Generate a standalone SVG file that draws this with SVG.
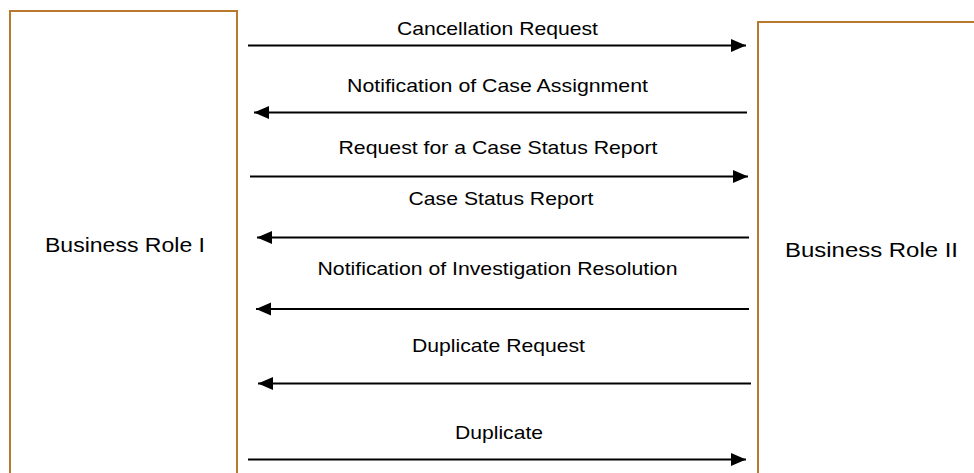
<svg xmlns="http://www.w3.org/2000/svg" width="974" height="473" viewBox="0 0 974 473">
  <style>
    .role { fill: #ffffff; stroke: #b8792f; stroke-width: 2; }
    .lbl { font-family: "Liberation Sans", Arial, sans-serif; font-size: 19px; fill: #000000; text-anchor: middle; }
    .big { font-size: 19.5px; }
    .msg { stroke: #000000; stroke-width: 2; fill: none; marker-end: url(#head); }
  </style>
  <defs>
    <marker id="head" markerUnits="userSpaceOnUse" markerWidth="16" markerHeight="14" refX="15" refY="7" orient="auto">
      <path d="M0,0.5 L15,7 L0,13.5 z" fill="#000000"/>
    </marker>
  </defs>
  <rect width="974" height="473" fill="#ffffff"/>

  <g id="role-1">
    <rect class="role" x="10" y="11" width="227" height="480"/>
    <text class="lbl big" x="125" y="252" textLength="160" lengthAdjust="spacingAndGlyphs">Business Role I</text>
  </g>
  <g id="role-2">
    <rect class="role" x="758" y="22" width="240" height="480"/>
    <text class="lbl big" x="871.5" y="257" textLength="173" lengthAdjust="spacingAndGlyphs">Business Role II</text>
  </g>

  <g id="connectors">
    <line class="msg" x1="248" y1="45.5" x2="746" y2="45.5"/>
    <line class="msg" x1="747" y1="112.5" x2="254" y2="112.5"/>
    <line class="msg" x1="250" y1="176.5" x2="748" y2="176.5"/>
    <line class="msg" x1="749" y1="237.5" x2="257" y2="237.5"/>
    <line class="msg" x1="749" y1="309" x2="256" y2="309"/>
    <line class="msg" x1="751" y1="383.5" x2="258" y2="383.5"/>
    <line class="msg" x1="248" y1="459.5" x2="746" y2="459.5"/>
  </g>

  <g id="labels">
    <text class="lbl" x="497.5" y="35" textLength="201" lengthAdjust="spacingAndGlyphs">Cancellation Request</text>
    <text class="lbl" x="497.5" y="91.5" textLength="301" lengthAdjust="spacingAndGlyphs">Notification of Case Assignment</text>
    <text class="lbl" x="498" y="153.5" textLength="319" lengthAdjust="spacingAndGlyphs">Request for a Case Status Report</text>
    <text class="lbl" x="501" y="205" textLength="185" lengthAdjust="spacingAndGlyphs">Case Status Report</text>
    <text class="lbl" x="497.5" y="274.5" textLength="360" lengthAdjust="spacingAndGlyphs">Notification of Investigation Resolution</text>
    <text class="lbl" x="498.5" y="351.5" textLength="173" lengthAdjust="spacingAndGlyphs">Duplicate Request</text>
    <text class="lbl" x="499" y="438.5" textLength="88" lengthAdjust="spacingAndGlyphs">Duplicate</text>
  </g>
</svg>
